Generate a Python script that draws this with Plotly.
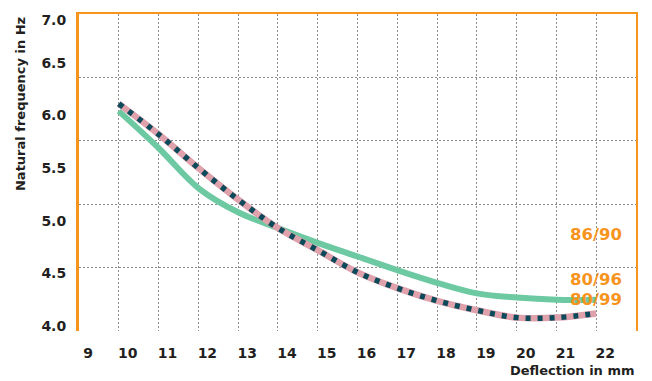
import plotly.graph_objects as go

# ---- data ----
deflection_mm = [10, 11, 12, 13, 14, 15, 16, 17, 18, 19, 20, 21, 22]
freq_86_90 = [6.04, 5.69, 5.31, 5.08, 4.93, 4.79, 4.66, 4.53, 4.41, 4.31, 4.27, 4.25, 4.25]
freq_80_96 = [6.11, 5.82, 5.50, 5.20, 4.93, 4.72, 4.51, 4.36, 4.24, 4.15, 4.08, 4.08, 4.12]
freq_80_99 = [6.11, 5.82, 5.50, 5.20, 4.93, 4.72, 4.51, 4.36, 4.24, 4.15, 4.08, 4.08, 4.12]
series_names = ["86/90", "80/96", "80/99"]

x_tick_vals = [9, 10, 11, 12, 13, 14, 15, 16, 17, 18, 19, 20, 21, 22]
x_tick_text = ["9", "10", "11", "12", "13", "14", "15", "16", "17", "18", "19", "20", "21", "22"]
y_tick_vals = [4.0, 4.5, 5.0, 5.5, 6.0, 6.5, 6.9]
y_tick_text = ["4.0", "4.5", "5.0", "5.5", "6.0", "6.5", "7.0"]

# ---- styles ----
ORANGE = "#F7941D"
GREEN = "#6DC9A1"
PINK = "#DFA1AB"
DARK = "#0B4A5B"
TEXT = "#231F20"
GRID = "#8C8C8C"
FONT = "DejaVu Sans"

fig = go.Figure()
fig.add_trace(go.Scatter(x=deflection_mm, y=freq_86_90, name=series_names[0], mode="lines",
                         line=dict(color=GREEN, width=6, shape="spline"), hoverinfo="skip"))
fig.add_trace(go.Scatter(x=deflection_mm, y=freq_80_96, name=series_names[1], mode="lines",
                         line=dict(color=PINK, width=6.5, shape="spline"), hoverinfo="skip"))
fig.add_trace(go.Scatter(x=deflection_mm, y=freq_80_99, name=series_names[2], mode="lines",
                         line=dict(color=DARK, width=5.5, shape="spline", dash="5px,7px"), hoverinfo="skip"))
# helper trace so that the frame/grid overlay axes are drawn
fig.add_trace(go.Scatter(x=[], y=[], xaxis="x2", yaxis="y2", hoverinfo="skip", showlegend=False))

tick_font = dict(family=FONT, size=14, color=TEXT, weight="bold")

fig.update_layout(
    width=652, height=381,
    margin=dict(l=79, r=16, t=12, b=50),
    paper_bgcolor="white", plot_bgcolor="white",
    showlegend=False,
    xaxis=dict(range=[9, 23], tickvals=x_tick_vals, ticktext=x_tick_text,
               showgrid=True, gridcolor=GRID, gridwidth=1, griddash="2px,2px",
               zeroline=False, showline=False, ticks="", tickfont=tick_font,
               ticklabelshift=9, ticklabelstandoff=12),
    yaxis=dict(range=[3.953, 6.962], tickvals=y_tick_vals, ticktext=y_tick_text,
               showgrid=False, zeroline=False, showline=True, linecolor=ORANGE, linewidth=3,
               ticks="", tickfont=tick_font, ticklabelstandoff=7),
    xaxis2=dict(overlaying="x", side="top", range=[9, 23], showgrid=False, zeroline=False,
                showline=True, linecolor=ORANGE, linewidth=2, showticklabels=False, ticks=""),
    yaxis2=dict(overlaying="y", side="right", range=[1, 6], tick0=1, dtick=1,
                showgrid=True, gridcolor=GRID, gridwidth=1, griddash="2px,2px",
                zeroline=False, showline=True, linecolor=ORANGE, linewidth=2,
                showticklabels=False, ticks=""),
)

label_y = [0.304, 0.1614, 0.0987]
for name, yy in zip(series_names, label_y):
    fig.add_annotation(text=name, xref="paper", yref="paper", x=0.928, y=yy,
                       xanchor="center", yanchor="middle", showarrow=False,
                       font=dict(family=FONT, size=16.5, color=ORANGE, weight="bold"))

fig.add_annotation(text="Deflection in mm", xref="paper", yref="paper", x=1.0, y=-0.125,
                   xanchor="right", yanchor="middle", showarrow=False,
                   font=dict(family=FONT, size=13, color=TEXT, weight="bold"))
fig.add_annotation(text="Natural frequency in Hz", xref="paper", yref="paper",
                   x=-0.104, y=0.997, xanchor="center", yanchor="top", textangle=-90,
                   showarrow=False, font=dict(family=FONT, size=13, color=TEXT, weight="bold"))

fig.write_html("out.html", config={"displayModeBar": False},
               post_script="document.body.style.margin='0px';")
